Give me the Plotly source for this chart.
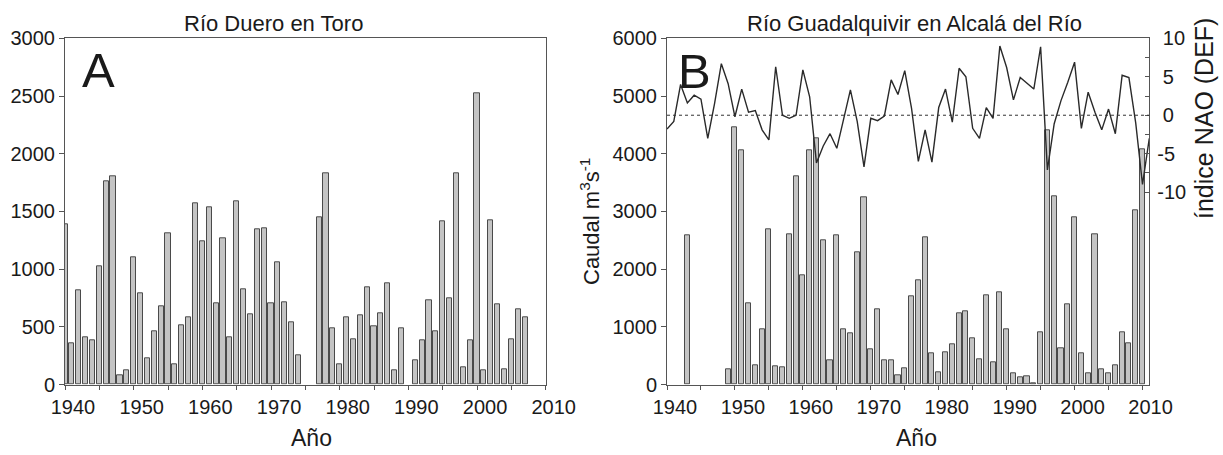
import plotly.graph_objects as go

W, H = 1223, 455

# --- Río Duero en Toro: annual discharge (m3/s) ---
duero_years = list(range(1940, 1975)) + list(range(1977, 1990)) + list(range(1991, 2008))
duero_flow = [1390, 353, 816, 405, 382, 1027, 1765, 1808, 84, 127,
              1105, 787, 223, 460, 677, 1308, 179, 512, 579, 1574,
              1244, 1533, 706, 1264, 411, 1591, 822, 605, 1342, 1357,
              706, 1062, 712, 538, 257,
              1452, 1828, 483, 174, 579, 388, 602, 839, 503, 613, 879, 122, 483,
              214, 382, 729, 463, 1415, 749, 1828, 150, 382, 2523,
              122, 1423, 691, 130, 396, 648, 584]

# --- Río Guadalquivir en Alcalá del Río: annual discharge (m3/s) ---
guad_years = [1943] + list(range(1949, 2011))
guad_flow = [2590,
             260, 4454, 4056, 1402, 335, 952, 2683, 317, 294, 2596,
             3617, 1886, 4056, 4269, 2498, 421, 2579, 952, 883, 2296,
             3248, 617, 1310, 421, 421, 160, 288, 1529, 1806, 2550,
             537, 213, 560, 704, 1240, 1269, 808, 433, 1546, 387,
             1604, 952, 202, 127, 144, 20, 906, 4413, 3259, 635,
             1396, 2902, 537, 202, 2596, 271, 202, 335, 912, 721,
             3011, 4084]

# --- Winter (DEF) NAO index ---
nao_years = list(range(1940, 2012))
nao_index = [-1.8, -0.8, 4.0, 1.6, 2.6, 2.1, -3.0, 1.5, 6.7, 4.1,
             -0.2, 3.4, 0.4, 0.6, -1.9, -3.2, 6.3, 0.0, -0.4, 0.0,
             5.9, 2.4, -6.2, -4.0, -2.4, -4.3, -0.5, 3.3, -0.8, -6.7,
             -0.4, -0.7, -0.1, 4.6, 2.7, 5.8, 0.9, -6.0, -1.9, -6.1,
             1.0, 3.4, -0.9, 6.1, 5.0, -1.7, -3.0, 1.0, -0.4, 9.0,
             6.2, 2.0, 4.9, 4.2, 3.4, 8.9, -7.1, -1.1, 1.9, 4.3,
             6.9, -1.7, 3.0, 0.4, -1.9, 0.8, -2.4, 5.2, 4.9, -1.0,
             -9.0, -3.0]

year_ticks = [1940, 1950, 1960, 1970, 1980, 1990, 2000, 2010]
half_decades = [1945, 1955, 1965, 1975, 1985, 1995, 2005]
nao_ticks = [-10, -5, 0, 5, 10]
nao_text = ["-10", "-5", "\u00a00", "\u00a05", "\u00a010"]
nao_minor = [-7.5, -2.5, 2.5, 7.5]

FONT = "Liberation Sans, Arial, sans-serif"
TXT = "#1a1a1a"
AX = "#555555"
BAR_FILL = "#c4c4c4"
BAR_LINE = "#4a4a4a"


def px(x):
    return x / W


def py(y):
    return 1 - y / H


fig = go.Figure()

fig.add_trace(go.Bar(x=duero_years, y=duero_flow, width=0.75,
                     marker=dict(color=BAR_FILL, line=dict(color=BAR_LINE, width=1)),
                     xaxis="x", yaxis="y", showlegend=False))
fig.add_trace(go.Bar(x=guad_years, y=guad_flow, width=0.75,
                     marker=dict(color=BAR_FILL, line=dict(color=BAR_LINE, width=1)),
                     xaxis="x2", yaxis="y2", showlegend=False))
fig.add_trace(go.Scatter(x=nao_years, y=nao_index, mode="lines",
                         line=dict(color="#2a2a2a", width=1.4),
                         xaxis="x2", yaxis="y3", showlegend=False))

y_dom = [py(384.5), py(38.3)]
xa = dict(ticks="outside", ticklen=4, tickcolor=AX, tickwidth=1,
          showline=True, linecolor=AX, linewidth=1, mirror=True,
          showgrid=False, zeroline=False, tickmode="array", tickvals=year_ticks,
          minor=dict(tickvals=half_decades, ticks="outside", ticklen=4,
                     tickcolor=AX, showgrid=False),
          tickfont=dict(family=FONT, size=20, color=TXT), ticklabelshift=8,
          automargin=False)
ya = dict(ticks="outside", ticklen=5, tickcolor=AX, tickwidth=1,
          showline=True, linecolor=AX, linewidth=1, mirror=True,
          showgrid=False, zeroline=False, automargin=False,
          tickfont=dict(family=FONT, size=20, color=TXT))

fig.update_layout(
    width=W, height=H,
    margin=dict(l=0, r=0, t=0, b=0, autoexpand=False),
    paper_bgcolor="white", plot_bgcolor="white",
    bargap=0,
    xaxis=dict(xa, domain=[px(65), px(545.7)], range=[1940, 2010], anchor="y"),
    yaxis=dict(ya, domain=y_dom, range=[0, 3000], dtick=500, anchor="x"),
    xaxis2=dict(xa, domain=[px(667), px(1149.3)], range=[1940, 2011], anchor="y2"),
    yaxis2=dict(ya, domain=y_dom, range=[0, 6000], dtick=1000, anchor="x2"),
    yaxis3=dict(overlaying="y2", anchor="x2", side="right", range=[-35, 10],
                tickmode="array", tickvals=nao_ticks, ticktext=nao_text,
                ticks="inside", ticklen=4, tickcolor=AX,
                minor=dict(tickvals=nao_minor, ticks="inside", ticklen=4,
                           tickcolor=AX, showgrid=False),
                showline=True, linecolor=AX, linewidth=1,
                showgrid=False, zeroline=False, ticklabelstandoff=3,
                automargin=False,
                tickfont=dict(family=FONT, size=20, color=TXT)),
)

# dotted reference line at NAO = 0
fig.add_shape(type="line", xref="x2 domain", yref="y3", x0=0, x1=1, y0=0, y1=0,
              line=dict(color="#333333", width=1, dash="dot"))

ann = [
    dict(text="Río Duero en Toro", x=px(273), y=py(23), size=22),
    dict(text="Río Guadalquivir en Alcalá del Río", x=px(914), y=py(23), size=22),
    dict(text="A", x=px(98), y=py(70), size=49),
    dict(text="B", x=px(694), y=py(71), size=49),
    dict(text="Año", x=px(311), y=py(438), size=23),
    dict(text="Año", x=px(916), y=py(438), size=23),
]
for a in ann:
    fig.add_annotation(text=a["text"], x=a["x"], y=a["y"], xref="paper", yref="paper",
                       showarrow=False, xanchor="center", yanchor="middle",
                       font=dict(family=FONT, size=a["size"], color=TXT))

fig.add_annotation(text="Caudal m<sup>3</sup>s<sup>-1</sup>", x=px(590), y=py(222),
                   xref="paper", yref="paper", showarrow=False, textangle=-90,
                   xanchor="center", yanchor="middle",
                   font=dict(family=FONT, size=22, color=TXT))
fig.add_annotation(text="índice NAO (DEF)", x=px(1204), y=py(119),
                   xref="paper", yref="paper", showarrow=False, textangle=-90,
                   xanchor="center", yanchor="middle",
                   font=dict(family=FONT, size=25, color=TXT))

fig.write_html("out.html")
